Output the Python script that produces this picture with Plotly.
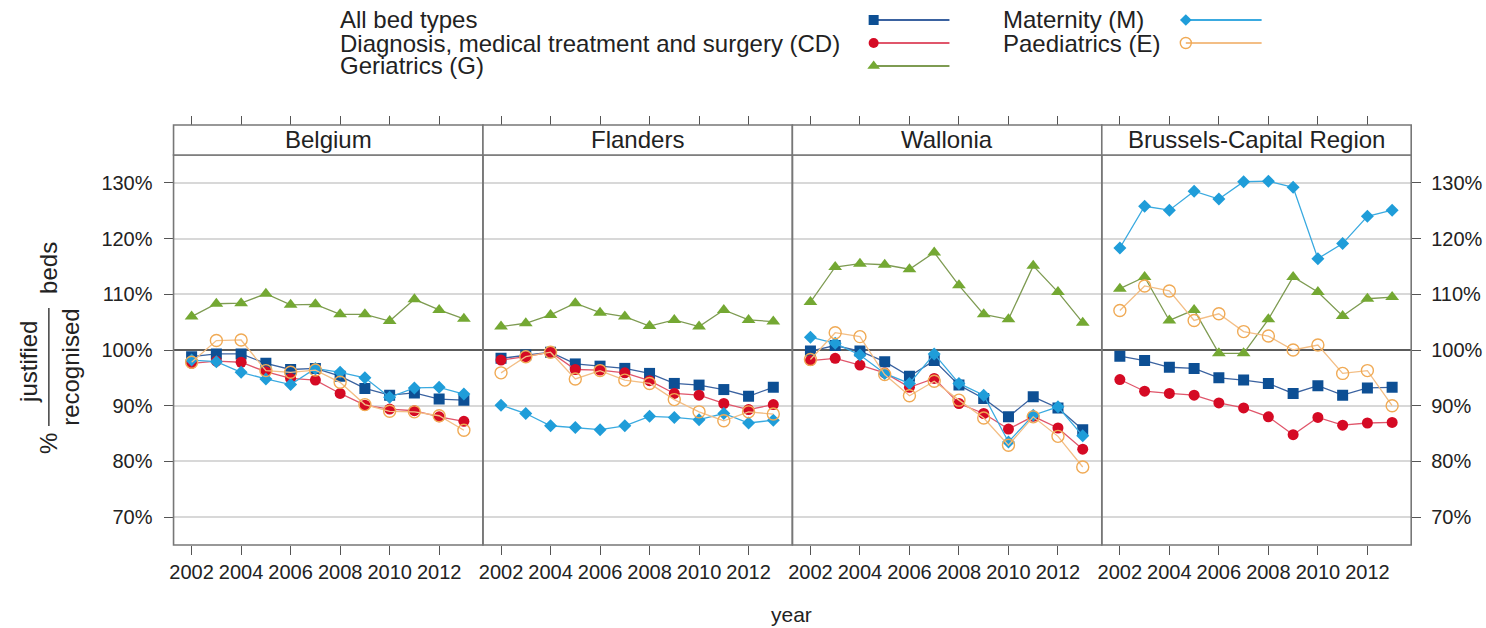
import plotly.graph_objects as go

W, H = 1486, 628

years = list(range(2002, 2014))
regions = ["Belgium", "Flanders", "Wallonia", "Brussels-Capital Region"]
series_names = [
    "All bed types",
    "Diagnosis, medical treatment and surgery (CD)",
    "Geriatrics (G)",
    "Maternity (M)",
    "Paediatrics (E)",
]

# ratio justified / recognised beds, in %
belgium_all = [98.8, 99.3, 99.3, 97.6, 96.5, 96.7, 95.3, 93.1, 91.9, 92.3, 91.2, 91.0]
belgium_cd = [97.6, 98.0, 97.8, 96.1, 94.9, 94.6, 92.2, 90.1, 89.4, 89.1, 88.0, 87.2]
belgium_g = [106.0, 108.3, 108.4, 110.1, 108.1, 108.2, 106.4, 106.4, 105.2, 109.1, 107.2, 105.6]
belgium_m = [98.2, 97.9, 96.0, 94.8, 93.8, 96.7, 96.0, 95.0, 91.5, 93.2, 93.3, 92.1]
belgium_e = [97.8, 101.7, 101.8, 96.3, 96.0, 96.4, 94.2, 90.2, 89.0, 88.9, 88.2, 85.6]

flanders_all = [98.5, 99.1, 99.6, 97.5, 97.1, 96.7, 95.8, 94.0, 93.7, 92.9, 91.7, 93.3]
flanders_cd = [98.2, 98.8, 99.6, 96.5, 96.4, 95.9, 94.5, 92.2, 91.9, 90.4, 89.3, 90.2]
flanders_g = [104.2, 104.8, 106.3, 108.4, 106.7, 106.0, 104.3, 105.4, 104.2, 107.2, 105.4, 105.1]
flanders_m = [90.1, 88.6, 86.4, 86.1, 85.7, 86.4, 88.1, 87.9, 87.5, 88.6, 86.9, 87.4]
flanders_e = [95.9, 98.8, 99.6, 94.8, 96.3, 94.6, 94.0, 91.1, 88.9, 87.3, 88.9, 88.5]

wallonia_all = [99.8, 100.8, 99.8, 97.9, 95.3, 98.1, 93.7, 91.3, 88.0, 91.6, 89.6, 85.7]
wallonia_cd = [98.1, 98.5, 97.3, 95.9, 93.3, 94.9, 90.4, 88.6, 85.8, 88.1, 86.0, 82.2]
wallonia_g = [108.6, 114.9, 115.5, 115.3, 114.5, 117.5, 111.6, 106.4, 105.5, 115.1, 110.4, 104.9]
wallonia_m = [102.3, 101.2, 99.1, 95.8, 94.0, 99.3, 94.0, 91.9, 83.5, 88.3, 89.8, 84.6]
wallonia_e = [98.3, 103.1, 102.4, 95.6, 91.8, 94.4, 91.0, 87.8, 82.9, 88.0, 84.5, 79.0]

brussels_all = [98.9, 98.1, 96.9, 96.7, 95.0, 94.6, 94.0, 92.2, 93.6, 91.9, 93.2, 93.3]
brussels_cd = [94.7, 92.6, 92.2, 91.9, 90.5, 89.6, 88.0, 84.8, 87.9, 86.5, 86.9, 87.0]
brussels_g = [111.0, 113.1, 105.3, 107.2, 99.4, 99.4, 105.5, 113.1, 110.4, 106.1, 109.2, 109.5]
brussels_m = [118.3, 125.8, 125.1, 128.5, 127.1, 130.2, 130.3, 129.2, 116.4, 119.1, 124.0, 125.1]
brussels_e = [107.1, 111.5, 110.6, 105.3, 106.5, 103.3, 102.5, 100.0, 100.9, 95.8, 96.3, 90.0]

panel_data = [
    [belgium_all, belgium_cd, belgium_g, belgium_m, belgium_e],
    [flanders_all, flanders_cd, flanders_g, flanders_m, flanders_e],
    [wallonia_all, wallonia_cd, wallonia_g, wallonia_m, wallonia_e],
    [brussels_all, brussels_cd, brussels_g, brussels_m, brussels_e],
]

y_ticks = [70, 80, 90, 100, 110, 120, 130]
x_ticks = [2002, 2004, 2006, 2008, 2010, 2012]
reference_level = 100

# styling per series: marker symbol, marker colour, line colour, marker size
styles = [
    dict(symbol="square", mcolor="#0D4F94", lcolor="#3A62A0", size=11),
    dict(symbol="circle", mcolor="#D50A24", lcolor="#E0566B", size=11),
    dict(symbol="triangle-up", mcolor="#74A833", lcolor="#7E9B52", size=12),
    dict(symbol="diamond", mcolor="#1F9DD9", lcolor="#3AAAE0", size=10),
    dict(symbol="circle-open", mcolor="#F0AA55", lcolor="#F3BE85", size=12),
]

FONT = "Liberation Sans, Arial, sans-serif"
TXT = "#222222"
FRAME = "#777777"


def px_x(p):
    return p / W


def px_y(p):
    return 1 - p / H


# panel geometry (pixels)
left, right = 170, 1411
top, bottom = 155, 545
strip_top = 125
pw = (right - left) / 4
x_range = [2001.27, 2013.77]
y_range = [65, 135]

fig = go.Figure()

for i, region in enumerate(regions):
    ax = "" if i == 0 else str(i + 1)
    for s, vals in enumerate(panel_data[i]):
        st = styles[s]
        marker = dict(symbol=st["symbol"], size=st["size"], color=st["mcolor"])
        if st["symbol"] == "circle-open":
            marker["line"] = dict(width=1.4, color=st["mcolor"])
        fig.add_trace(go.Scatter(
            x=years, y=vals, mode="lines+markers",
            name=series_names[s], showlegend=False,
            line=dict(color=st["lcolor"], width=1.3),
            marker=marker,
            xaxis="x" + ax, yaxis="y" + ax,
        ))
    # empty trace carrying the top tick axis of this panel
    fig.add_trace(go.Scatter(x=[], y=[], xaxis="x" + str(i + 5), yaxis="y" + ax,
                             showlegend=False, hoverinfo="skip"))

layout = dict(
    width=W, height=H,
    margin=dict(l=0, r=0, t=0, b=0),
    paper_bgcolor="white", plot_bgcolor="rgba(0,0,0,0)",
    font=dict(family=FONT, color=TXT),
    showlegend=False,
)

ydom = [px_y(bottom), px_y(top)]
shapes = []
annotations = []

for i in range(4):
    n = i + 1
    ax = "" if i == 0 else str(n)
    xdom = [px_x(left + pw * i), px_x(left + pw * (i + 1))]
    layout["xaxis" + ax] = dict(
        domain=xdom, range=x_range, anchor="y" + ax,
        tickvals=x_ticks, ticks="outside", ticklen=9, tickwidth=1.3,
        tickcolor="#555555", tickfont=dict(size=20, color=TXT),
        showgrid=False, zeroline=False, showline=False, fixedrange=True,
    )
    layout["xaxis" + str(n + 4)] = dict(
        overlaying="x" + ax, side="top", anchor="free", position=px_y(strip_top),
        range=x_range, tickvals=x_ticks, ticks="outside", ticklen=9, tickwidth=1.3,
        tickcolor="#555555", showticklabels=False,
        showgrid=False, zeroline=False, showline=False, fixedrange=True,
    )
    ycfg = dict(
        domain=ydom, range=y_range, anchor="x" + ax,
        tickvals=y_ticks, ticktext=[f"{v}%" for v in y_ticks],
        showgrid=True, gridcolor="#D8D8D8", gridwidth=1.6,
        zeroline=False, showline=False, fixedrange=True,
        tickfont=dict(size=20, color=TXT),
    )
    if i == 0:
        ycfg.update(ticks="outside", ticklen=9, tickwidth=1.3, tickcolor="#555555",
                    showticklabels=True, side="left", ticklabelstandoff=7)
    elif i == 3:
        ycfg.update(ticks="outside", ticklen=9, tickwidth=1.3, tickcolor="#555555",
                    showticklabels=True, side="right", ticklabelstandoff=6)
    else:
        ycfg.update(ticks="", showticklabels=False)
    layout["yaxis" + ax] = ycfg

    # reference line at 100 %
    shapes.append(dict(type="line", xref="x" + ax, yref="y" + ax,
                       x0=x_range[0], x1=x_range[1],
                       y0=reference_level, y1=reference_level, layer="between",
                       line=dict(color="#333333", width=1.6)))
    # panel frame
    shapes.append(dict(type="rect", xref="paper", yref="paper",
                       x0=xdom[0], x1=xdom[1], y0=ydom[0], y1=ydom[1], layer="above",
                       line=dict(color=FRAME, width=1.6)))
    # strip
    shapes.append(dict(type="rect", xref="paper", yref="paper",
                       x0=xdom[0], x1=xdom[1], y0=px_y(top), y1=px_y(strip_top),
                       layer="above", fillcolor="white",
                       line=dict(color=FRAME, width=1.6)))
    annotations.append(dict(text=regions[i], xref="paper", yref="paper",
                            x=(xdom[0] + xdom[1]) / 2, y=px_y((top + strip_top) / 2),
                            xanchor="center", yanchor="middle", showarrow=False,
                            font=dict(size=24, color=TXT)))

# axis title for x
annotations.append(dict(text="year", xref="paper", yref="paper",
                        x=px_x(790), y=px_y(614), xanchor="center", yanchor="middle",
                        showarrow=False, font=dict(size=21, color=TXT)))

# y axis title: % justified / recognised beds, written as a fraction
ytitle_parts = [("%", 44, 443), ("justified", 24, 362), ("recognised", 66, 367), ("beds", 44, 268)]
for txt, xx, yy in ytitle_parts:
    annotations.append(dict(text=txt, xref="paper", yref="paper", x=px_x(xx), y=px_y(yy),
                            xanchor="center", yanchor="middle", textangle=-90,
                            showarrow=False, font=dict(size=24, color=TXT)))
shapes.append(dict(type="line", xref="paper", yref="paper",
                   x0=px_x(45), x1=px_x(45), y0=px_y(308), y1=px_y(426),
                   line=dict(color=TXT, width=1.3)))

# key: text followed by a symbol with a line segment
key_cols = [(335, 872), (1000, 1185)]
key_rows = [20, 43, 66]
key_slots = [(0, 0), (0, 1), (0, 2), (1, 0), (1, 1)]
key_len = 76
layout["xaxis9"] = dict(domain=[0, 1], range=[0, W], visible=False, fixedrange=True,
                        anchor="y9")
layout["yaxis9"] = dict(domain=[0.85, 1], range=[H * 0.15, 0], visible=False,
                        fixedrange=True, anchor="x9")
for s, (c, r) in enumerate(key_slots):
    tx, kx = key_cols[c]
    ky = key_rows[r]
    st = styles[s]
    annotations.append(dict(text=series_names[s], xref="paper", yref="paper",
                            x=px_x(tx), y=px_y(ky), xanchor="left", yanchor="middle",
                            showarrow=False, font=dict(size=24, color=TXT)))
    fig.add_trace(go.Scatter(x=[kx, kx + key_len], y=[ky, ky], mode="lines",
                             line=dict(color=st["lcolor"], width=2.2),
                             xaxis="x9", yaxis="y9", showlegend=False, hoverinfo="skip"))
    marker = dict(symbol=st["symbol"], size=st["size"] - 1, color=st["mcolor"])
    if st["symbol"] == "circle-open":
        marker["line"] = dict(width=1.4, color=st["mcolor"])
    fig.add_trace(go.Scatter(x=[kx], y=[ky], mode="markers", marker=marker,
                             xaxis="x9", yaxis="y9", showlegend=False, hoverinfo="skip"))

layout["shapes"] = shapes
layout["annotations"] = annotations
fig.update_layout(**layout)

fig.write_html("out.html")
